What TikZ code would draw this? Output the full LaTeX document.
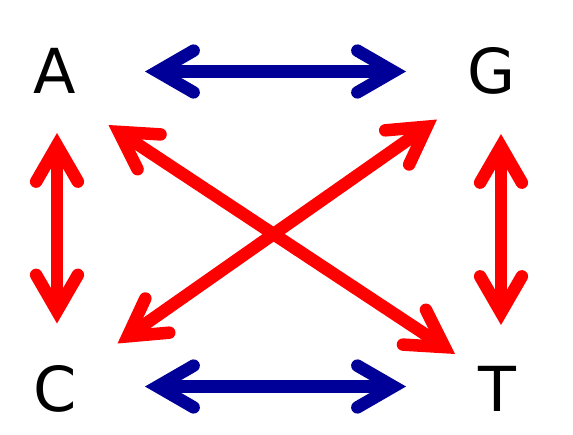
\documentclass[tikz,border=0pt]{standalone}
\usepackage{fontspec}
\setmainfont{DejaVu Sans}
\usetikzlibrary{calc}
\definecolor{arrblue}{RGB}{0,0,153}
\definecolor{arrred}{RGB}{255,0,0}
\tikzset{
  letter/.style={inner sep=0pt, anchor=base, font=\fontsize{62}{62}\selectfont},
  arrline/.style={line width=12.5pt, line cap=butt},
  arrhead/.style={line width=12.5pt, line cap=round, line join=miter},
}
\newcommand\dblarr[3]{%
  \path ($(#2)!12.5pt!(#3)$) coordinate (p1) ($(#3)!12.5pt!(#2)$) coordinate (p2);
  \draw[arrline, #1] (p1) -- (p2);
  \draw[arrhead, #1] ($(p1)!41.7pt!30:(p2)$) -- (p1) -- ($(p1)!41.7pt!-30:(p2)$);
  \draw[arrhead, #1] ($(p2)!41.7pt!30:(p1)$) -- (p2) -- ($(p2)!41.7pt!-30:(p1)$);
}
\begin{document}
\begin{tikzpicture}[x=1pt,y=-1pt]
\useasboundingbox (0,0) rectangle (573,434);
\node[letter] (A) at (54.5,93.5) {A};
\node[letter] (G) at (492,93.5) {G};
\node[letter] (C) at (55.5,411) {C};
\node[letter] (T) at (497,411) {T};
\coordinate (ag1) at (145,71.5);
\coordinate (ag2) at (406,71.5);
\coordinate (ct1) at (145,386.5);
\coordinate (ct2) at (406,386.5);
\coordinate (ac1) at (57,133);
\coordinate (ac2) at (57,323.5);
\coordinate (gt1) at (501,134);
\coordinate (gt2) at (501,325);
\coordinate (at1) at (108.5,125);
\coordinate (at2) at (455,354);
\coordinate (gc1) at (437,119.5);
\coordinate (gc2) at (117.5,343.5);
\dblarr{arrblue}{ag1}{ag2}
\dblarr{arrblue}{ct1}{ct2}
\dblarr{arrred}{ac1}{ac2}
\dblarr{arrred}{gt1}{gt2}
\dblarr{arrred}{at1}{at2}
\dblarr{arrred}{gc1}{gc2}
\end{tikzpicture}
\end{document}
